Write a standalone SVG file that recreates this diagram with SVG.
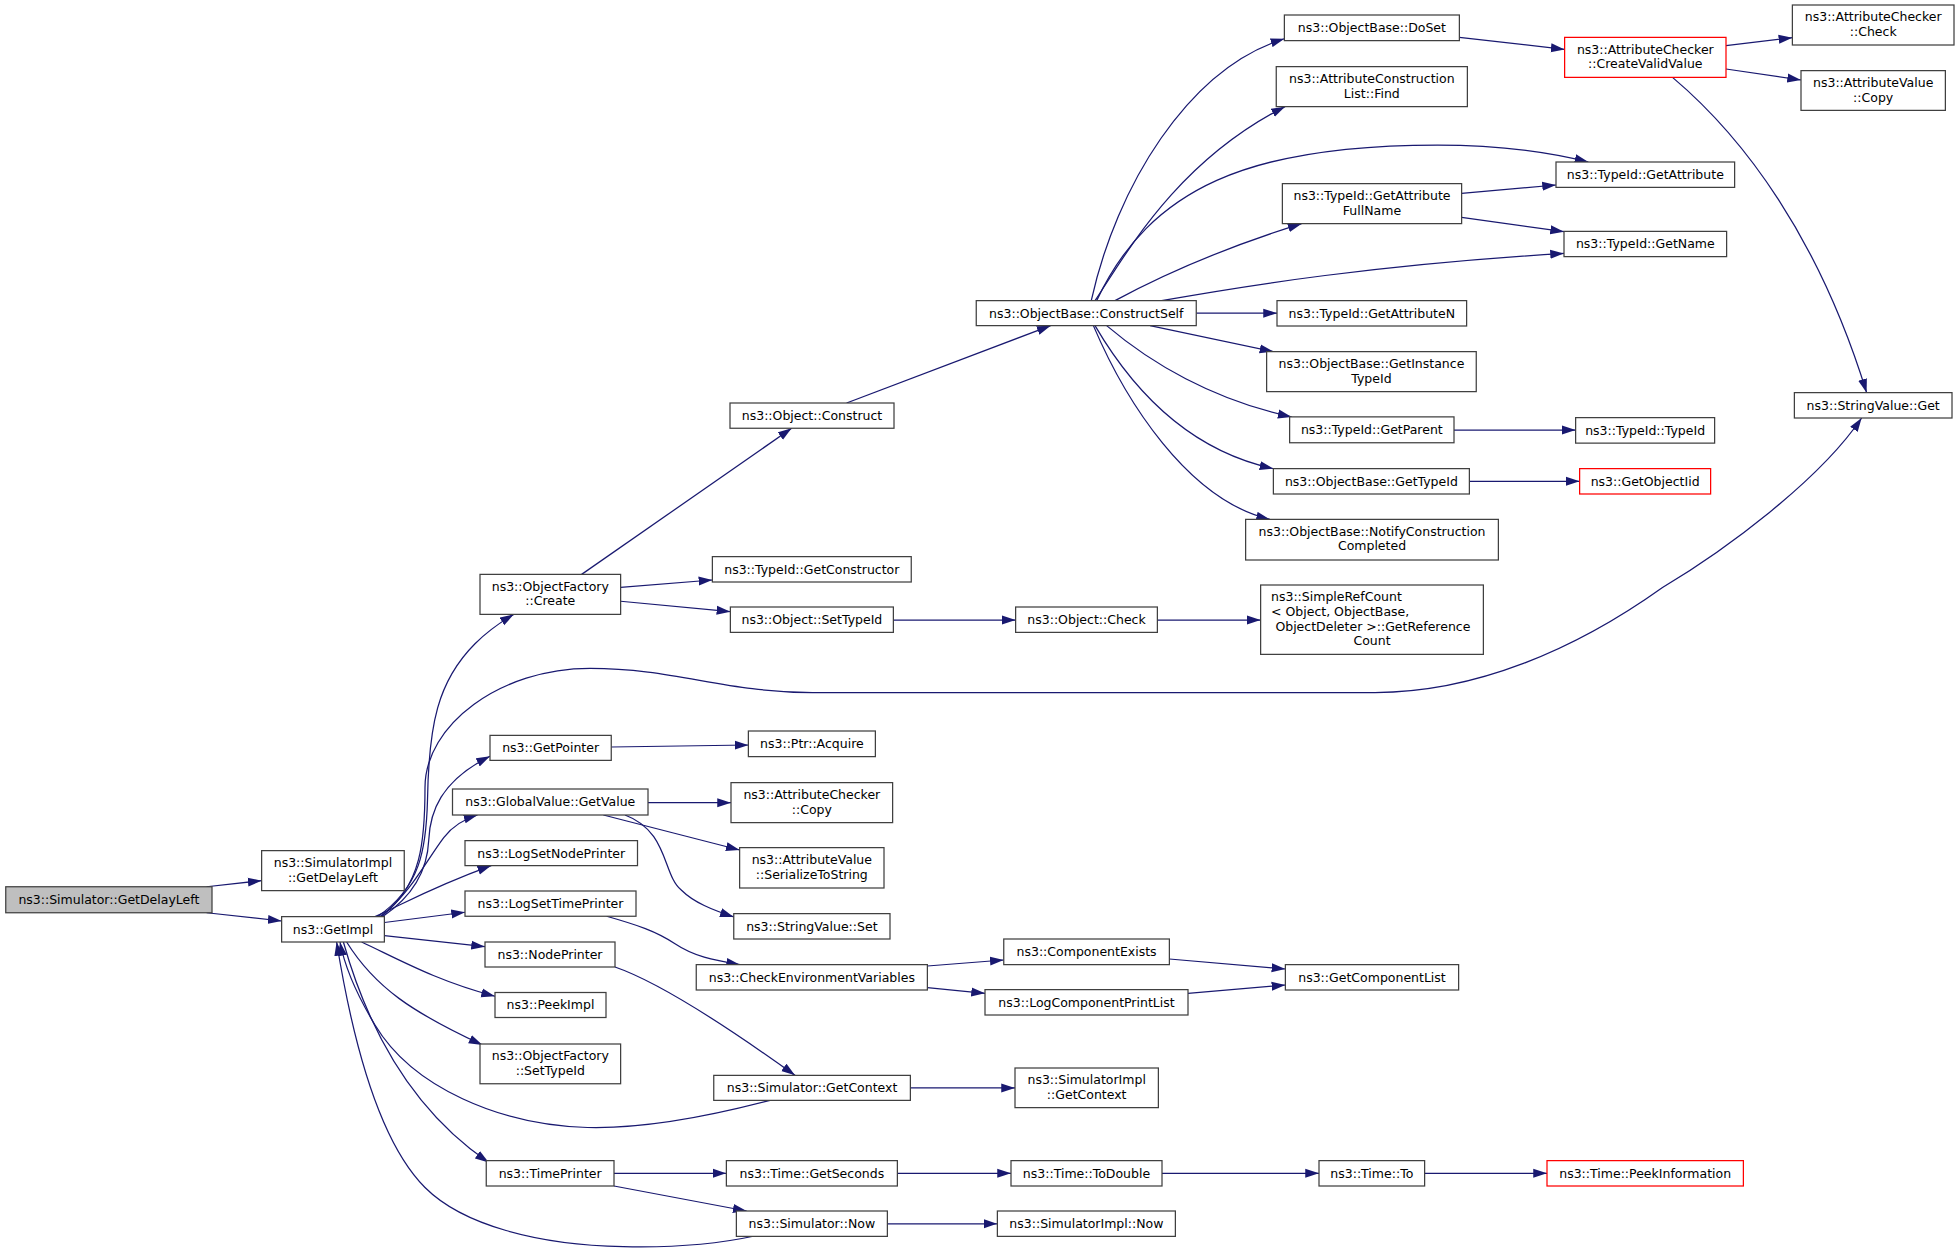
<svg xmlns="http://www.w3.org/2000/svg" width="1960" height="1253" viewBox="0 0 1960 1253">
<style>
.n rect{fill:#fff;stroke:#404040;stroke-width:1}
.r rect{stroke:#ff0000}
.root rect{fill:#bfbfbf}
text{font-family:"DejaVu Sans","Liberation Sans",sans-serif;font-size:10px;fill:#000;text-anchor:middle}
text.l{text-anchor:start}
.e path{fill:none;stroke:#191970;stroke-width:1;marker-end:url(#ah)}
</style>
<defs>
<marker id="ah" markerUnits="userSpaceOnUse" markerWidth="11" markerHeight="8" viewBox="0 0 11 8" refX="11" refY="4" orient="auto">
<path d="M0,0.4 L11,4 L0,7.6 z" fill="#191970"/>
</marker>
</defs>
<rect width="1960" height="1253" fill="#fff"/>
<g transform="scale(1.25)">
<g id="edges" class="e">
<path d="M165.3,709.4 L209.3,704.5"/>
<path d="M165.3,730.2 L225.3,736.8"/>
<path d="M302,733.3 C336,710 341,680 342,640 C343,580 350,545 380,515 C390,505 400,498 411,491.5"/>
<path d="M304,733.3 C338,710 340,670 340,630 C340,580 400,534.7 472,534.7 C540,534.7 580,554 650,554 L1100,554 C1180,554 1260,520 1330,470 C1380,440 1455,385 1489.3,334.4"/>
<path d="M306,733.3 C332,716 342,695 343,672 C344,650 352,625 392,605"/>
<path d="M305,733.3 C330,712 340,690 355,670 C362,661 372,655 382,652"/>
<path d="M300,733.3 C325,722 345,710 393,692.5"/>
<path d="M307.5,738 L372,729.8"/>
<path d="M307.5,748.5 L388,757.3"/>
<path d="M289.3,753.6 C320,768 350,785 396,797"/>
<path d="M277.3,753.6 C300,790 330,810 386,836"/>
<path d="M274.7,753.6 C292,815 325,885 391,930"/>
<path d="M616,880.3 C560,895 510,903 470,902 C400,900 330,870 300,820 C285,795 276,775 272,753.6"/>
<path d="M602.7,989 C570,996 530,998 498.7,997.3 C430,996 370,980 340,950 C300,910 280,820 269.3,753.6"/>
<path d="M465.3,459.5 L633.3,342.6"/>
<path d="M496.5,469.9 L569.9,464"/>
<path d="M496.5,481 L584.3,489.3"/>
<path d="M714.7,496 L812.5,496"/>
<path d="M925.9,496 L1008.5,496"/>
<path d="M677.3,322.4 L840.5,260.5"/>
<path d="M873,240.5 C893,150 950,55 1027.5,31"/>
<path d="M876,240.5 C900,205 940,130 1028,85.3"/>
<path d="M877.3,240.5 C920,150 1000,116 1150,116 C1200,116 1240,122 1270.7,129.6"/>
<path d="M892,240.5 C930,220 980,198 1041.3,178.9"/>
<path d="M929.3,240.5 C1000,228 1100,212 1251.2,202.7"/>
<path d="M957,250.5 L1021.6,250.5"/>
<path d="M920,260.5 L1018.7,281.3"/>
<path d="M885.3,260.5 C920,290 970,320 1033.3,333.5"/>
<path d="M876,260.5 C905,310 950,360 1018.7,374.9"/>
<path d="M874.7,260.5 C900,320 950,400 1016,415.5"/>
<path d="M1169.3,154.7 L1244.8,148"/>
<path d="M1169.3,173.9 L1251.2,185.3"/>
<path d="M1167.5,29.9 L1251.7,39.5"/>
<path d="M1380.8,36.5 L1433.9,30.1"/>
<path d="M1380.8,55.2 L1440.8,64"/>
<path d="M1338,61.9 C1395,110 1455,190 1493.3,314.1"/>
<path d="M1163.2,344 L1260.5,344"/>
<path d="M1175.5,385 L1263.7,385"/>
<path d="M489,597.6 L598.7,596"/>
<path d="M518.4,642.1 L584.8,642.1"/>
<path d="M482.7,652 L591.7,680"/>
<path d="M500,652 C535,665 530,700 545,712 C555,722 570,728 587,733.5"/>
<path d="M485.3,733 C510,740 525,745 540,755 C555,765 570,768 592,771.7"/>
<path d="M492,773.6 C525,785 580,820 636,860.3"/>
<path d="M741.9,772.8 L803,768"/>
<path d="M741.9,790.1 L788,794.7"/>
<path d="M935.5,767.2 L1028.3,775.2"/>
<path d="M950.4,794.7 L1028.3,788"/>
<path d="M728.3,870.3 L812,870.3"/>
<path d="M491.2,938.6 L581.1,938.6"/>
<path d="M491.2,948.8 L597.3,968.8"/>
<path d="M717.9,938.6 L808.8,938.6"/>
<path d="M929.6,938.6 L1055.2,938.6"/>
<path d="M1139.7,938.6 L1237.6,938.6"/>
<path d="M709.9,979 L797.9,979"/>
</g>
<g id="n_root" class="n root"><rect x="4.6" y="709.4" width="165" height="20.8"/><text x="87.1" y="723.3">ns3::Simulator::GetDelayLeft</text></g>
<g id="n_sidl" class="n"><rect x="209.3" y="680.5" width="114.1" height="32"/><text x="266.35" y="693.5">ns3::SimulatorImpl</text><text x="266.35" y="705.2">::GetDelayLeft</text></g>
<g id="n_getimpl" class="n"><rect x="225.3" y="733.3" width="82.2" height="20.3"/><text x="266.4" y="747">ns3::GetImpl</text></g>
<g id="n_ofcreate" class="n"><rect x="384" y="459.5" width="112.5" height="32"/><text x="440.25" y="472.5">ns3::ObjectFactory</text><text x="440.25" y="484.2">::Create</text></g>
<g id="n_getpointer" class="n"><rect x="392" y="588.3" width="97" height="20"/><text x="440.5" y="601.8">ns3::GetPointer</text></g>
<g id="n_gvgetvalue" class="n"><rect x="362" y="631.2" width="156.4" height="20.8"/><text x="440.2" y="645.1">ns3::GlobalValue::GetValue</text></g>
<g id="n_logsetnode" class="n"><rect x="372" y="672.5" width="138" height="20"/><text x="441" y="686">ns3::LogSetNodePrinter</text></g>
<g id="n_logsettime" class="n"><rect x="372" y="712.8" width="136.8" height="20.2"/><text x="440.4" y="726.4">ns3::LogSetTimePrinter</text></g>
<g id="n_nodeprinter" class="n"><rect x="388" y="753.6" width="104" height="20"/><text x="440" y="767.1">ns3::NodePrinter</text></g>
<g id="n_peekimpl" class="n"><rect x="396" y="794" width="88.8" height="20"/><text x="440.4" y="807.5">ns3::PeekImpl</text></g>
<g id="n_ofsettypeid" class="n"><rect x="384" y="835.2" width="112.5" height="31.8"/><text x="440.25" y="848.2">ns3::ObjectFactory</text><text x="440.25" y="859.9">::SetTypeId</text></g>
<g id="n_timeprinter" class="n"><rect x="389" y="928.5" width="102.2" height="20.3"/><text x="440.1" y="942.1">ns3::TimePrinter</text></g>
<g id="n_construct" class="n"><rect x="584" y="322.4" width="131.2" height="20.2"/><text x="649.6" y="336">ns3::Object::Construct</text></g>
<g id="n_getconstructor" class="n"><rect x="569.9" y="445.3" width="159.1" height="20.3"/><text x="649.45" y="458.9">ns3::TypeId::GetConstructor</text></g>
<g id="n_settypeid" class="n"><rect x="584.3" y="485.6" width="130.4" height="20.3"/><text x="649.5" y="499.2">ns3::Object::SetTypeId</text></g>
<g id="n_acquire" class="n"><rect x="598.7" y="584.8" width="101.6" height="20.5"/><text x="649.5" y="598.5">ns3::Ptr::Acquire</text></g>
<g id="n_accopy" class="n"><rect x="584.8" y="626.1" width="129.3" height="32"/><text x="649.45" y="639.1">ns3::AttributeChecker</text><text x="649.45" y="650.8">::Copy</text></g>
<g id="n_serialize" class="n"><rect x="591.7" y="678.1" width="115.5" height="32.3"/><text x="649.45" y="691.1">ns3::AttributeValue</text><text x="649.45" y="702.8">::SerializeToString</text></g>
<g id="n_svset" class="n"><rect x="587" y="730.9" width="125" height="20.3"/><text x="649.5" y="744.5">ns3::StringValue::Set</text></g>
<g id="n_checkenv" class="n"><rect x="557" y="771.7" width="184.9" height="20.3"/><text x="649.45" y="785.3">ns3::CheckEnvironmentVariables</text></g>
<g id="n_simgetctx" class="n"><rect x="571" y="860.3" width="157.3" height="20"/><text x="649.65" y="873.8">ns3::Simulator::GetContext</text></g>
<g id="n_getseconds" class="n"><rect x="581.1" y="928.5" width="136.8" height="20.3"/><text x="649.5" y="942.1">ns3::Time::GetSeconds</text></g>
<g id="n_simnow" class="n"><rect x="589.1" y="968.8" width="120.8" height="20.3"/><text x="649.5" y="982.4">ns3::Simulator::Now</text></g>
<g id="n_constructself" class="n"><rect x="781" y="240.5" width="176" height="20"/><text x="869" y="254">ns3::ObjectBase::ConstructSelf</text></g>
<g id="n_objcheck" class="n"><rect x="812.5" y="485.6" width="113.4" height="20.3"/><text x="869.2" y="499.2">ns3::Object::Check</text></g>
<g id="n_compexists" class="n"><rect x="803" y="751.2" width="132.5" height="20.5"/><text x="869.25" y="764.9">ns3::ComponentExists</text></g>
<g id="n_logcomp" class="n"><rect x="788" y="791.7" width="162.4" height="20.3"/><text x="869.2" y="805.3">ns3::LogComponentPrintList</text></g>
<g id="n_simimplctx" class="n"><rect x="812" y="854.4" width="114.7" height="31.7"/><text x="869.35" y="867.4">ns3::SimulatorImpl</text><text x="869.35" y="879.1">::GetContext</text></g>
<g id="n_todouble" class="n"><rect x="808.8" y="928.5" width="120.8" height="20.3"/><text x="869.2" y="942.1">ns3::Time::ToDouble</text></g>
<g id="n_simimplnow" class="n"><rect x="797.9" y="968.8" width="142.4" height="20.3"/><text x="869.1" y="982.4">ns3::SimulatorImpl::Now</text></g>
<g id="n_doset" class="n"><rect x="1027.5" y="12" width="140" height="20.5"/><text x="1097.5" y="25.7">ns3::ObjectBase::DoSet</text></g>
<g id="n_acfind" class="n"><rect x="1021" y="53.3" width="152.9" height="32"/><text x="1097.45" y="66.3">ns3::AttributeConstruction</text><text x="1097.45" y="78">List::Find</text></g>
<g id="n_getattrfull" class="n"><rect x="1025.9" y="146.9" width="143.4" height="32"/><text x="1097.6" y="159.9">ns3::TypeId::GetAttribute</text><text x="1097.6" y="171.6">FullName</text></g>
<g id="n_getattrn" class="n"><rect x="1021.6" y="240.5" width="151.7" height="20.3"/><text x="1097.45" y="254.1">ns3::TypeId::GetAttributeN</text></g>
<g id="n_getinst" class="n"><rect x="1013.3" y="281.3" width="167.7" height="32"/><text x="1097.15" y="294.3">ns3::ObjectBase::GetInstance</text><text x="1097.15" y="306">TypeId</text></g>
<g id="n_getparent" class="n"><rect x="1031.7" y="333.5" width="131.5" height="20.7"/><text x="1097.45" y="347.3">ns3::TypeId::GetParent</text></g>
<g id="n_gettypeid" class="n"><rect x="1018.7" y="374.9" width="156.8" height="20.3"/><text x="1097.1" y="388.5">ns3::ObjectBase::GetTypeId</text></g>
<g id="n_notify" class="n"><rect x="996.5" y="415.5" width="202.2" height="32.5"/><text x="1097.6" y="428.5">ns3::ObjectBase::NotifyConstruction</text><text x="1097.6" y="440.2">Completed</text></g>
<g id="n_simpleref" class="n"><rect x="1008.5" y="468" width="178.2" height="55.5"/><text class="l" x="1016.8" y="480.8">ns3::SimpleRefCount</text><text class="l" x="1016.8" y="492.6">&lt; Object, ObjectBase,</text><text class="l" x="1020.3" y="504.4">ObjectDeleter &gt;::GetReference</text><text x="1097.6" y="516.2">Count</text></g>
<g id="n_getcomplist" class="n"><rect x="1028.3" y="771.7" width="138.6" height="20.3"/><text x="1097.6" y="785.3">ns3::GetComponentList</text></g>
<g id="n_timeto" class="n"><rect x="1055.2" y="928.5" width="84.5" height="20.3"/><text x="1097.45" y="942.1">ns3::Time::To</text></g>
<g id="n_createvalid" class="n r"><rect x="1251.7" y="29.9" width="129.1" height="32"/><text x="1316.25" y="42.9">ns3::AttributeChecker</text><text x="1316.25" y="54.6">::CreateValidValue</text></g>
<g id="n_getattr" class="n"><rect x="1244.8" y="129.6" width="142.9" height="20.3"/><text x="1316.25" y="143.2">ns3::TypeId::GetAttribute</text></g>
<g id="n_getname" class="n"><rect x="1251.2" y="185.1" width="130.1" height="20.2"/><text x="1316.25" y="198.7">ns3::TypeId::GetName</text></g>
<g id="n_typeid" class="n"><rect x="1260.5" y="334.1" width="111.2" height="20.4"/><text x="1316.1" y="347.7">ns3::TypeId::TypeId</text></g>
<g id="n_getobjectiid" class="n r"><rect x="1263.7" y="374.9" width="104.8" height="20.3"/><text x="1316.1" y="388.5">ns3::GetObjectIid</text></g>
<g id="n_peekinfo" class="n r"><rect x="1237.6" y="928.5" width="157.1" height="20.3"/><text x="1316.15" y="942.1">ns3::Time::PeekInformation</text></g>
<g id="n_accheck" class="n"><rect x="1433.9" y="4" width="129.3" height="32"/><text x="1498.55" y="17">ns3::AttributeChecker</text><text x="1498.55" y="28.7">::Check</text></g>
<g id="n_avcopy" class="n"><rect x="1440.8" y="56.5" width="115.5" height="31.8"/><text x="1498.55" y="69.5">ns3::AttributeValue</text><text x="1498.55" y="81.2">::Copy</text></g>
<g id="n_svget" class="n"><rect x="1435.5" y="314.1" width="126.1" height="20.3"/><text x="1498.55" y="327.7">ns3::StringValue::Get</text></g>
</g>
</svg>
